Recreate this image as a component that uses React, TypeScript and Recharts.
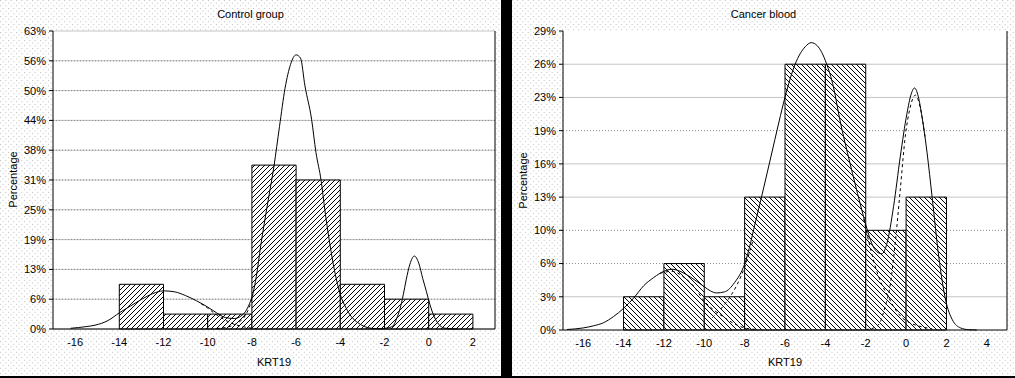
import React from 'react';
import { ComposedChart, Line, XAxis, YAxis, CartesianGrid, ReferenceArea } from 'recharts';

// histogram bins (KRT19 classes)
const binStarts = [-14, -12, -10, -8, -6, -4, -2, 0];
const binWidth = 2;

// counts per bin, percentages are count / total
const controlCounts = [3, 1, 1, 11, 10, 3, 2, 1];
const controlTotal = 32;
const cancerCounts = [1, 2, 1, 4, 8, 8, 3, 4];
const cancerTotal = 31;

const controlXTicks = [-16, -14, -12, -10, -8, -6, -4, -2, 0, 2];
const cancerXTicks = [-16, -14, -12, -10, -8, -6, -4, -2, 0, 2, 4];

// y ticks expressed in counts
const controlYTickCounts = [0, 2, 4, 6, 8, 10, 12, 14, 16, 18, 20];
const cancerYTickCounts = [0, 1, 2, 3, 4, 5, 6, 7, 8, 9];
const cancerSolidGrid = [1, 4, 5, 7, 8];
const cancerDottedGrid = [2, 3, 6];

// fitted curves: [x, percent]
const controlFit = [
  [-16.2, 0.15], [-15.5, 0.5], [-15.1, 0.8], [-14.5, 1.8], [-14, 3.4], [-13.5, 4.8], [-13, 6.2],
  [-12.5, 7.4], [-12, 8.0], [-11.5, 7.8], [-11, 7.0], [-10.5, 5.9], [-10, 4.6], [-9.6, 3.4],
  [-9.2, 2.4], [-8.8, 2.2], [-8.5, 2.7], [-8.3, 3.6], [-8.1, 5.4], [-7.95, 7.5], [-7.8, 11],
  [-7.6, 17.5], [-7.3, 26], [-7, 34.2], [-6.75, 42.5], [-6.5, 50.5], [-6.25, 55.5], [-6, 57.5],
  [-5.8, 56.8], [-5.6, 51], [-5.3, 44], [-5.1, 37], [-4.87, 31.2], [-4.7, 25], [-4.5, 18.6],
  [-4.25, 12], [-4, 7.2], [-3.75, 4.5], [-3.5, 2.6], [-3.2, 1.3], [-2.9, 0.5], [-2.6, 0.15],
  [-2.2, 0.05], [-1.9, 0.2], [-1.62, 0.6], [-1.45, 2.2], [-1.3, 4.2], [-1.15, 7.2], [-1.02, 10.3],
  [-0.85, 13.6], [-0.65, 15.3], [-0.45, 13.8], [-0.27, 10.6], [-0.1, 7.8], [0.05, 5.2], [0.25, 2.6],
  [0.45, 1.0], [0.7, 0.2], [1, 0.03], [1.3, 0],
];
const controlDashA = [
  [-10.3, 5.3], [-10, 4.4], [-9.7, 3.3], [-9.4, 2.4], [-9.1, 1.6], [-8.8, 1.0], [-8.5, 0.6],
  [-8.2, 0.3], [-7.8, 0.1],
];
const controlDashB = [
  [-9.6, 0.1], [-9.2, 0.3], [-8.9, 0.7], [-8.6, 1.4], [-8.3, 2.8], [-8.1, 4.8], [-7.95, 7.2],
];

const cancerFit = [
  [-16.8, 0.05], [-16, 0.2], [-15.5, 0.4], [-15, 0.7], [-14.5, 1.3], [-14, 2.1], [-13.5, 3.1],
  [-13, 4.3], [-12.5, 5.1], [-12, 5.7], [-11.6, 5.9], [-11.2, 5.7], [-10.9, 5.4], [-10.5, 4.9],
  [-10, 4.2], [-9.7, 3.8], [-9.4, 3.6], [-9, 3.7], [-8.5, 4.6], [-8, 6.4], [-7.4, 11], [-6.7, 16.8],
  [-6.3, 20.2], [-6, 22.6], [-5.5, 25.8], [-5, 27.5], [-4.7, 27.9], [-4.4, 27.6], [-3.95, 25.9],
  [-3.6, 23.6], [-3.28, 20.4], [-2.78, 16.2], [-2.28, 12.3], [-1.95, 9.9], [-1.7, 8.4],
  [-1.45, 7.6], [-1.2, 7.4], [-0.95, 8.4], [-0.62, 12.0], [-0.29, 16.8], [0.04, 21.0], [0.25, 22.9],
  [0.42, 23.5], [0.6, 22.7], [0.79, 20.7], [1.04, 17.2], [1.29, 12.9], [1.62, 7.1], [1.96, 2.9],
  [2.29, 1.0], [2.7, 0.2], [3.1, 0.03], [3.5, 0],
];
const cancerDashA = [
  [-12.2, 5.5], [-11.6, 5.7], [-11, 5.1], [-10.5, 4.2], [-10, 2.8], [-9.5, 1.9], [-9, 1.2],
  [-8.6, 0.7], [-8, 0.2], [-7.4, 0.05],
];
const cancerDashB1 = [[-9.6, 1.2], [-9.2, 2.0], [-8.8, 3.0], [-8.4, 4.3], [-8, 6.1], [-7.6, 8.6]];
const cancerDashB2 = [
  [-2.1, 10.8], [-1.8, 8.2], [-1.5, 6.0], [-1.2, 4.4], [-0.95, 3.5], [-0.6, 2.2], [-0.2, 1.2],
  [0.3, 0.6], [0.8, 0.3], [1.3, 0.1],
];
const cancerDashC = [
  [-2, 0.05], [-1.6, 0.2], [-1.3, 0.7], [-1.05, 2.2], [-0.8, 4.2], [-0.54, 8.4], [-0.29, 13.6],
  [-0.04, 18.8], [0.2, 21.6], [0.46, 22.8], [0.7, 21.6], [0.95, 18.6],
];

const FONT = 'Arial, "Liberation Sans", sans-serif';
const H = 378;
const tickStyle = { fontSize: 11, fill: '#000', fontFamily: FONT };

const toPts = (arr: number[][]) => arr.map(([x, y]) => ({ x, y }));

function hatchPath(h: number, dir: 'up' | 'down') {
  if (dir === 'up') return `M0,${h} L${h},0 M-1,1 L1,-1 M${h - 1},${h + 1} L${h + 1},${h - 1}`;
  return `M0,0 L${h},${h} M-1,${h - 1} L1,${h + 1} M${h - 1},-1 L${h + 1},1`;
}

interface PanelProps {
  id: string;
  left: number;
  width: number;
  title: string;
  counts: number[];
  total: number;
  xDomain: [number, number];
  xTicks: number[];
  yTickCounts: number[];
  solidGrid: number[];
  dottedGrid: number[];
  yAxisWidth: number;
  rightWidth: number;
  xAxisHeight: number;
  hatch: 'up' | 'down';
  hatchSize: number;
  fit: number[][];
  dashed: number[][][];
}

function Panel(p: PanelProps) {
  const pct = (c: number) => (c * 100) / p.total;
  const bars = binStarts.map((s, i) => ({ x1: s, x2: s + binWidth, y: pct(p.counts[i]) }));
  const yTicks = p.yTickCounts.map(pct);
  const yMax = yTicks[yTicks.length - 1];
  const plotLeft = p.yAxisWidth;
  const plotRight = p.width - p.rightWidth;
  const plotCenter = (plotLeft + plotRight) / 2;
  const plotMid = (31 + (H - p.xAxisHeight)) / 2;
  const hid = `hatch-${p.id}`;

  return (
    <div style={{ position: 'absolute', left: p.left, top: 0, width: p.width, height: H }}>
      <ComposedChart width={p.width} height={H} margin={{ top: 31, right: 0, bottom: 0, left: 0 }}>
        <defs>
          <pattern id={hid} width={p.hatchSize} height={p.hatchSize} patternUnits="userSpaceOnUse">
            <rect width={p.hatchSize} height={p.hatchSize} fill="#fff" />
            <path d={hatchPath(p.hatchSize, p.hatch)} stroke="#000" strokeWidth={1} shapeRendering="crispEdges" />
          </pattern>
        </defs>
        <CartesianGrid fill="#fff" vertical={false} horizontalValues={p.solidGrid.map(pct)} stroke="#c4c4c4" />
        <CartesianGrid vertical={false} horizontalValues={p.dottedGrid.map(pct)} stroke="#8a8a8a" strokeDasharray="1 2" />
        <XAxis
          dataKey="x"
          type="number"
          domain={p.xDomain}
          ticks={p.xTicks}
          allowDataOverflow
          height={p.xAxisHeight}
          tickLine={false}
          tickSize={6}
          tickMargin={3}
          axisLine={{ stroke: '#000' }}
          tick={tickStyle}
          interval={0}
        />
        <XAxis
          xAxisId="top"
          orientation="top"
          type="number"
          domain={p.xDomain}
          height={0}
          tick={false}
          tickLine={false}
          axisLine={{ stroke: '#000' }}
        />
        <YAxis
          type="number"
          domain={[0, yMax]}
          ticks={yTicks}
          interval={0}
          width={p.yAxisWidth}
          tickSize={4}
          tickMargin={3}
          tickLine={{ stroke: '#000' }}
          axisLine={{ stroke: '#000' }}
          tick={tickStyle}
          tickFormatter={(v: number) => `${Math.round(v)}%`}
        />
        <YAxis
          yAxisId="r"
          orientation="right"
          type="number"
          domain={[0, yMax]}
          ticks={yTicks}
          interval={0}
          width={p.rightWidth}
          tickSize={3}
          tickMargin={0}
          tickLine={{ stroke: '#000' }}
          axisLine={{ stroke: '#000' }}
          tick={tickStyle}
          tickFormatter={() => ''}
        />
        {bars.map((b) => (
          <ReferenceArea
            key={b.x1}
            x1={b.x1}
            x2={b.x2}
            y1={0}
            y2={b.y}
            fill={`url(#${hid})`}
            fillOpacity={1}
            stroke="#000"
            strokeWidth={1}
            strokeOpacity={1}
          />
        ))}
        {p.dashed.map((d, i) => (
          <Line
            key={i}
            data={toPts(d)}
            dataKey="y"
            type="monotone"
            stroke="#000"
            strokeWidth={1}
            strokeDasharray="3 3"
            dot={false}
            activeDot={false}
            isAnimationActive={false}
          />
        ))}
        <Line
          data={toPts(p.fit)}
          dataKey="y"
          type="monotone"
          stroke="#000"
          strokeWidth={1}
          dot={false}
          activeDot={false}
          isAnimationActive={false}
        />
      </ComposedChart>
      <div style={{ position: 'absolute', left: 0, top: 8, width: p.width, textAlign: 'center', fontFamily: FONT, fontSize: 11, lineHeight: '13px', color: '#000' }}>
        {p.title}
      </div>
      <div style={{ position: 'absolute', left: plotCenter - 50, top: 356, width: 100, textAlign: 'center', fontFamily: FONT, fontSize: 11, lineHeight: '13px', color: '#000' }}>
        KRT19
      </div>
      <div
        style={{
          position: 'absolute',
          left: p.id === 'c' ? 13 - 40 : 11 - 40,
          top: plotMid - 7,
          width: 80,
          textAlign: 'center',
          fontFamily: FONT,
          fontSize: 11,
          lineHeight: '13px',
          color: '#000',
          transform: 'rotate(-90deg)',
        }}
      >
        Percentage
      </div>
    </div>
  );
}

export default function App() {
  return (
    <div style={{ position: 'absolute', left: 0, top: 0, width: 1015, height: H, overflow: 'hidden', background: '#fff' }}>
      <svg width={1015} height={H} style={{ position: 'absolute', left: 0, top: 0 }}>
        <defs>
          <pattern id="bgdots" width={5.33} height={5.33} patternUnits="userSpaceOnUse">
            <rect x={0} y={0} width={1} height={1} fill="#bcbcbc" />
            <rect x={2.67} y={2.67} width={1} height={1} fill="#bcbcbc" />
          </pattern>
        </defs>
        <rect width={1015} height={H} fill="url(#bgdots)" />
      </svg>
      <Panel
        id="c"
        left={0}
        width={501}
        title="Control group"
        counts={controlCounts}
        total={controlTotal}
        xDomain={[-17, 3]}
        xTicks={controlXTicks}
        yTickCounts={controlYTickCounts}
        solidGrid={[]}
        dottedGrid={controlYTickCounts.slice(1, -1)}
        yAxisWidth={53}
        rightWidth={6}
        xAxisHeight={49}
        hatch="up"
        hatchSize={5}
        fit={controlFit}
        dashed={[controlDashA, controlDashB]}
      />
      <Panel
        id="k"
        left={512}
        width={503}
        title="Cancer blood"
        counts={cancerCounts}
        total={cancerTotal}
        xDomain={[-17, 5]}
        xTicks={cancerXTicks}
        yTickCounts={cancerYTickCounts}
        solidGrid={cancerSolidGrid}
        dottedGrid={cancerDottedGrid}
        yAxisWidth={51}
        rightWidth={8}
        xAxisHeight={48}
        hatch="down"
        hatchSize={5}
        fit={cancerFit}
        dashed={[cancerDashA, cancerDashB1, cancerDashB2, cancerDashC]}
      />
      <div style={{ position: 'absolute', left: 501, top: 0, width: 11, height: H, background: '#000' }} />
      <div style={{ position: 'absolute', left: 0, top: 376, width: 1015, height: 2, background: '#000' }} />
    </div>
  );
}
